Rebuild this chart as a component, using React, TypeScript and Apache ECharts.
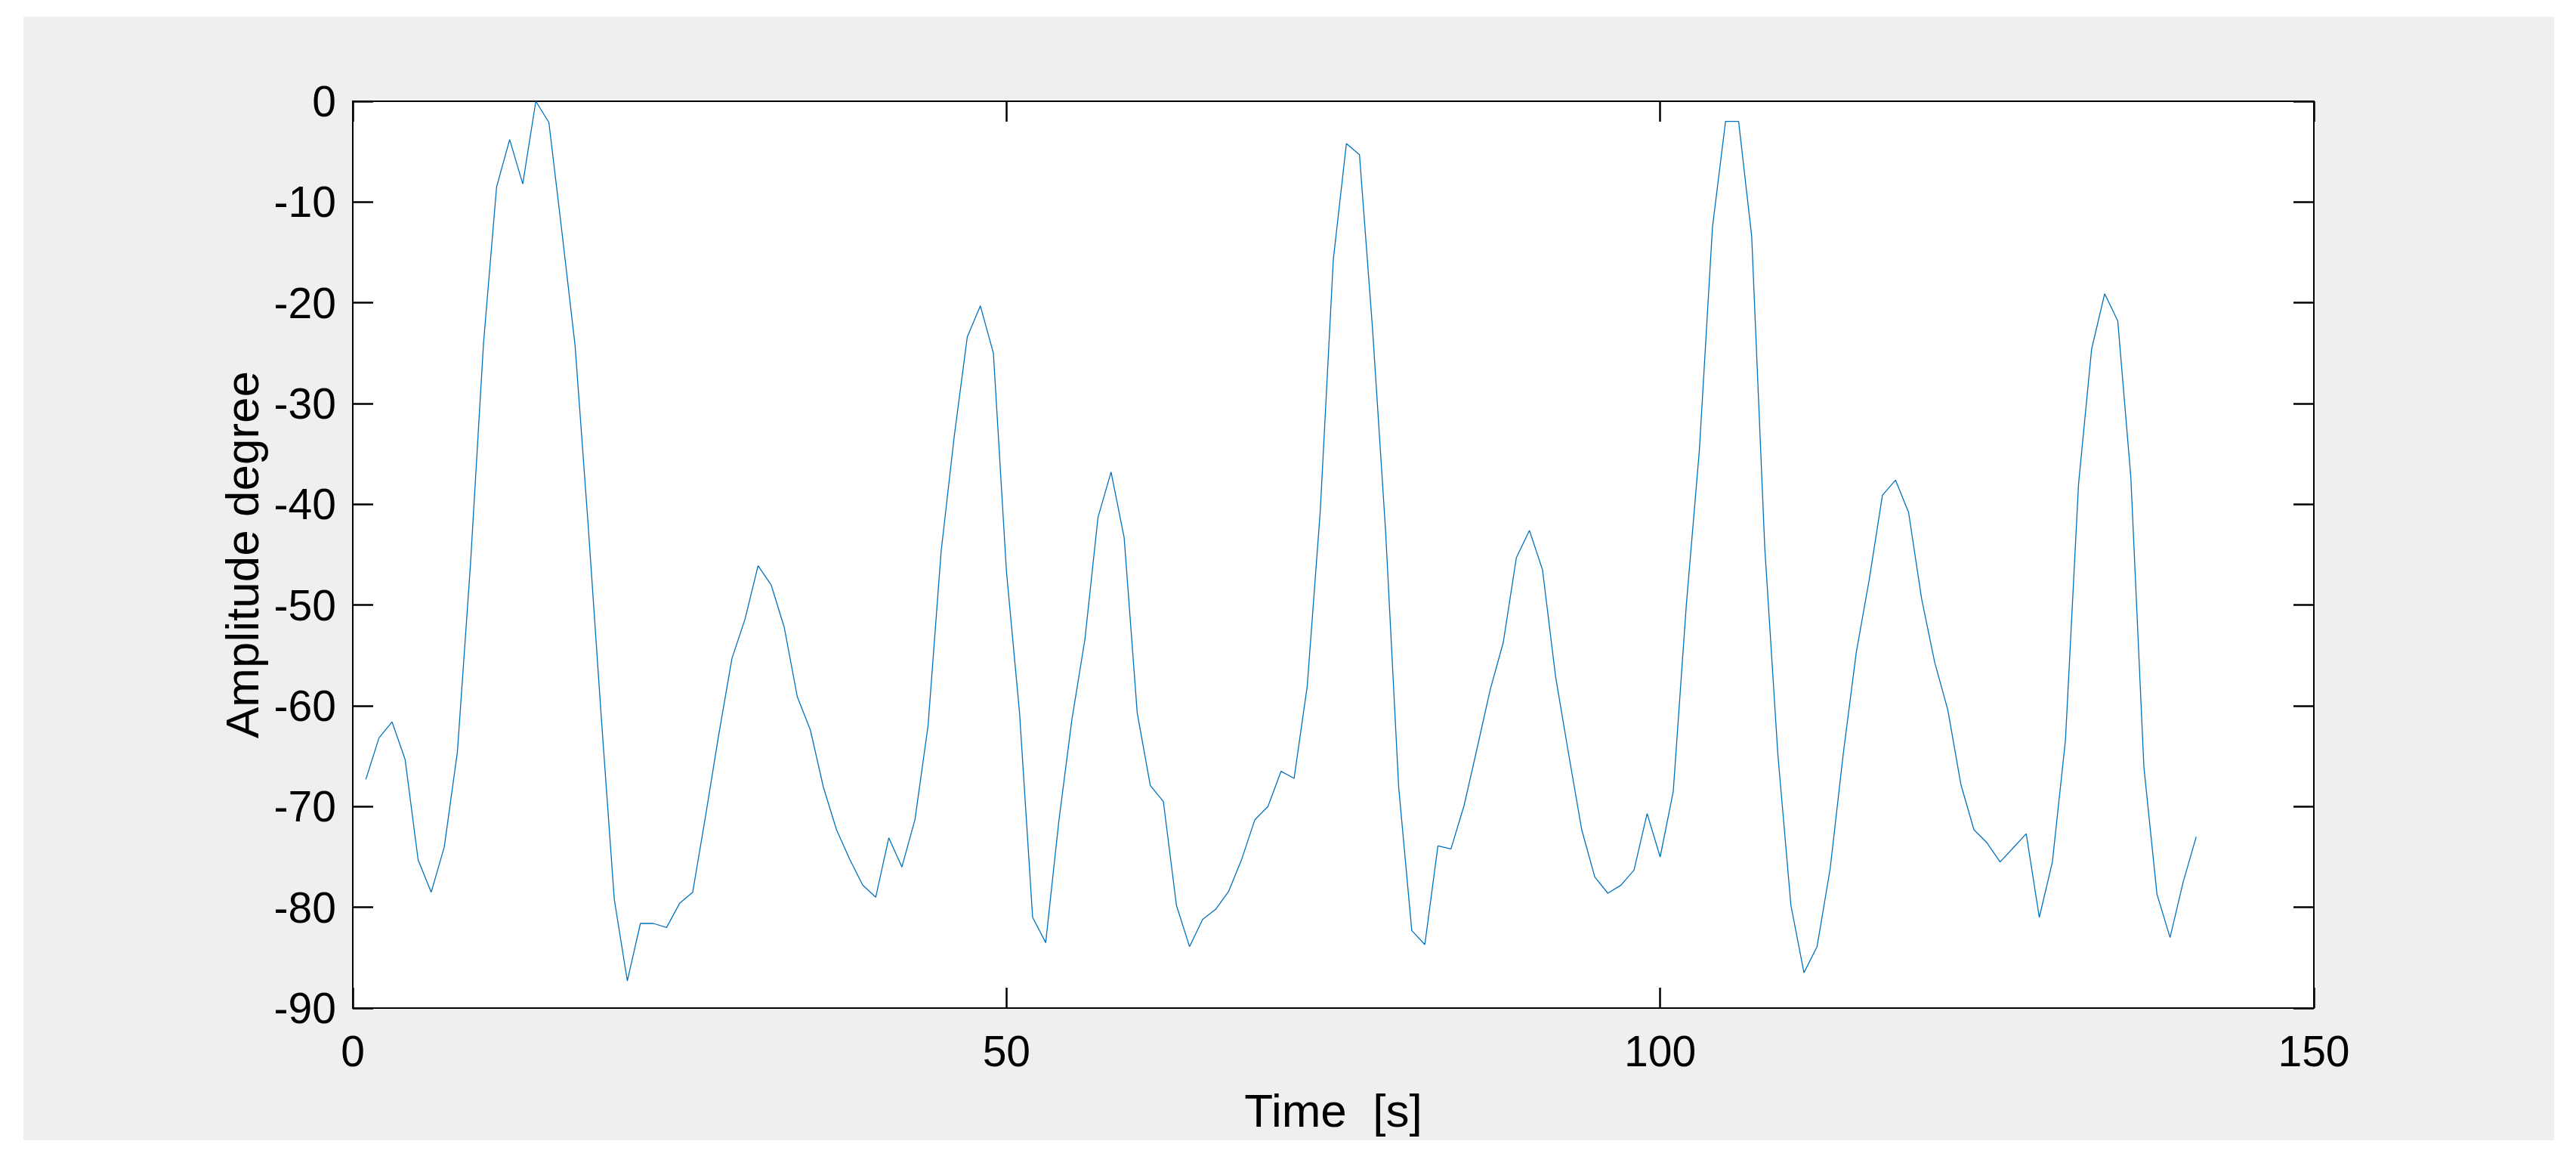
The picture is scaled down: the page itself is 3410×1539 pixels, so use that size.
import React, { useEffect, useRef } from "react";
import * as echarts from "echarts";

const timeSeconds = [
  1, 2, 3, 4, 5, 6, 7, 8, 9, 10, 11, 12, 13, 14, 15, 16, 17, 18, 19, 20,
  21, 22, 23, 24, 25, 26, 27, 28, 29, 30, 31, 32, 33, 34, 35, 36, 37, 38, 39, 40,
  41, 42, 43, 44, 45, 46, 47, 48, 49, 50, 51, 52, 53, 54, 55, 56, 57, 58, 59, 60,
  61, 62, 63, 64, 65, 66, 67, 68, 69, 70, 71, 72, 73, 74, 75, 76, 77, 78, 79, 80,
  81, 82, 83, 84, 85, 86, 87, 88, 89, 90, 91, 92, 93, 94, 95, 96, 97, 98, 99, 100,
  101, 102, 103, 104, 105, 106, 107, 108, 109, 110, 111, 112, 113, 114, 115, 116, 117, 118, 119, 120,
  121, 122, 123, 124, 125, 126, 127, 128, 129, 130, 131, 132, 133, 134, 135, 136, 137, 138, 139, 140,
  141,
];

const amplitudeDegree = [
  -67.3, -63.2, -61.6, -65.3, -75.3, -78.5, -74.0, -64.6, -46.0, -24.0,
  -8.5, -3.8, -8.2, 0.0, -2.1, -13.0, -24.2, -42.0, -61.0, -79.2,
  -87.3, -81.6, -81.6, -82.0, -79.6, -78.5, -70.8, -62.8, -55.3, -51.4,
  -46.1, -48.0, -52.2, -59.1, -62.4, -68.1, -72.3, -75.2, -77.8, -79.0,
  -73.1, -76.0, -71.3, -62.0, -44.7, -33.3, -23.4, -20.3, -25.0, -46.7,
  -60.7, -81.0, -83.5, -71.5, -61.4, -53.4, -41.3, -36.8, -43.3, -60.7,
  -67.9, -69.5, -79.8, -83.9, -81.2, -80.2, -78.4, -75.2, -71.3, -70.0,
  -66.5, -67.2, -58.1, -40.7, -15.7, -4.2, -5.3, -22.6, -42.7, -68.1,
  -82.3, -83.7, -73.9, -74.2, -69.9, -64.2, -58.4, -53.7, -45.3, -42.6,
  -46.5, -57.1, -64.8, -72.3, -77.0, -78.6, -77.8, -76.3, -70.7, -75.0,
  -68.5, -50.0, -34.6, -12.5, -2.0, -2.0, -13.4, -44.3, -64.8, -79.8,
  -86.5, -83.9, -76.2, -64.8, -54.7, -47.4, -39.1, -37.6, -40.8, -49.4,
  -55.7, -60.4, -67.8, -72.3, -73.6, -75.5, -74.1, -72.7, -81.0, -75.5,
  -63.4, -38.0, -24.6, -19.1, -21.8, -37.3, -66.1, -78.7, -83.0, -77.5,
  -73.0,
];

const xAxisTitle = "Time  [s]";
const yAxisTitle = "Amplitude degree";

const FONT = "'Liberation Sans', Arial, Helvetica, sans-serif";

export default function App() {
  const ref = useRef<HTMLDivElement>(null);

  useEffect(() => {
    document.body.style.margin = "0";
    if (!ref.current) return;
    const chart = echarts.init(ref.current, null, { renderer: "svg" });

    const tickStyle = { inside: true, length: 27, lineStyle: { color: "#000", width: 2.5 } };
    const lineStyle = { lineStyle: { color: "#000", width: 2 } };

    chart.setOption({
      animation: false,
      backgroundColor: "#ffffff",
      graphic: [
        {
          type: "rect",
          z: -100,
          silent: true,
          shape: { x: 31, y: 22, width: 3350, height: 1487 },
          style: { fill: "#efefef" },
        },
      ],
      grid: {
        left: 467,
        right: 347,
        top: 134,
        bottom: 205,
        show: true,
        backgroundColor: "#ffffff",
        borderWidth: 0,
      },
      xAxis: [
        {
          type: "value",
          min: 0,
          max: 150,
          interval: 50,
          position: "bottom",
          axisLine: { show: true, onZero: false, ...lineStyle },
          axisTick: tickStyle,
          splitLine: { show: false },
          axisLabel: { color: "#000", fontSize: 57, fontFamily: FONT, margin: 28 },
          name: xAxisTitle,
          nameLocation: "middle",
          nameGap: 104,
          nameTextStyle: { color: "#000", fontSize: 62, fontFamily: FONT },
        },
        {
          type: "value",
          min: 0,
          max: 150,
          interval: 50,
          position: "top",
          axisLine: { show: true, onZero: false, ...lineStyle },
          axisTick: tickStyle,
          splitLine: { show: false },
          axisLabel: { show: false },
        },
      ],
      yAxis: [
        {
          type: "value",
          min: -90,
          max: 0,
          interval: 10,
          position: "left",
          axisLine: { show: true, onZero: false, ...lineStyle },
          axisTick: tickStyle,
          splitLine: { show: false },
          axisLabel: { color: "#000", fontSize: 57, fontFamily: FONT, margin: 22 },
          name: yAxisTitle,
          nameLocation: "middle",
          nameGap: 112,
          nameRotate: 90,
          nameTextStyle: { color: "#000", fontSize: 62, fontFamily: FONT },
        },
        {
          type: "value",
          min: -90,
          max: 0,
          interval: 10,
          position: "right",
          axisLine: { show: true, onZero: false, ...lineStyle },
          axisTick: tickStyle,
          splitLine: { show: false },
          axisLabel: { show: false },
        },
      ],
      series: [
        {
          type: "line",
          xAxisIndex: 0,
          yAxisIndex: 0,
          data: timeSeconds.map((t, i) => [t, amplitudeDegree[i]]),
          showSymbol: false,
          symbol: "none",
          lineStyle: { color: "#0072BD", width: 1.3 },
          z: 5,
        },
      ],
    });

    return () => chart.dispose();
  }, []);

  return <div ref={ref} style={{ width: 3410, height: 1539 }} />;
}
